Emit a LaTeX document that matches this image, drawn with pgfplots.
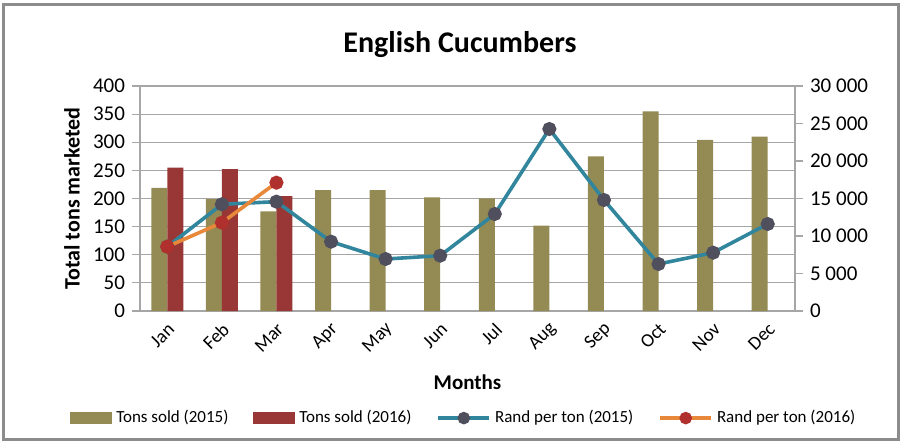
\documentclass[border=0pt]{standalone}
\usepackage{pgfplots}
\pgfplotsset{compat=1.18}
\usepackage{fontspec}
\setmainfont{Carlito}
\definecolor{olive15}{HTML}{948A54}
\definecolor{red16}{HTML}{983735}
\definecolor{teal15}{HTML}{31859C}
\definecolor{orange16}{HTML}{E8883A}
\definecolor{mark15}{HTML}{4F4F5E}
\definecolor{mark16}{HTML}{B0302E}
\definecolor{gridgray}{HTML}{A6A6A6}
\definecolor{framegray}{HTML}{8C8C8C}
\begin{document}
\begin{tikzpicture}[x=1pt,y=1pt]
\useasboundingbox (-70,-66.5) rectangle (381.5,155.5);
\draw[framegray, line width=1.5pt] (-68,-64) rectangle (379,153);
\node[font=\bfseries\fontsize{15}{18}\selectfont] at (160,133) {English Cucumbers};
\begin{axis}[
  at={(0,0)}, anchor=south west,
  scale only axis, width=327.5pt, height=112.5pt,
  xmin=-0.5, xmax=11.5, ymin=0, ymax=400,
  ytick={0,50,...,400},
  xtick={0,...,11},
  xticklabels={Jan,Feb,Mar,Apr,May,Jun,Jul,Aug,Sep,Oct,Nov,Dec},
  x tick style={draw=none},
  axis x line*=bottom, axis y line*=left,
  axis line style={gridgray, line width=0.6pt, -},
  ymajorgrids, grid style={gridgray, line width=0.6pt},
  ytick style={gridgray, line width=0.6pt},
  tick align=outside, major tick length=4pt,
  /pgf/number format/assume math mode=true,
  yticklabel style={font=\fontsize{10.5}{12}\selectfont},
  xticklabel style={font=\fontsize{9.5}{11}\selectfont, rotate=45, anchor=east, yshift=-4pt, inner sep=1pt},
  ylabel={Total tons marketed},
  ylabel style={font=\bfseries\fontsize{11}{13}\selectfont, at={(axis description cs:-0.104,0.5)}, anchor=center, rotate=0},
  xlabel={Months},
  xlabel style={font=\bfseries\fontsize{10.5}{12}\selectfont, at={(axis description cs:0.5,-0.316)}, anchor=center},
]
\addplot[ybar, bar width=8pt, bar shift=-4pt, fill=olive15, draw=none] coordinates {
(0,219) (1,199) (2,177) (3,215) (4,215) (5,202) (6,200) (7,152) (8,275) (9,355) (10,304) (11,310)};
\addplot[ybar, bar width=8pt, bar shift=4pt, fill=red16, draw=none] coordinates {
(0,255) (1,252) (2,204)};
\end{axis}
\begin{axis}[
  at={(0,0)}, anchor=south west,
  scale only axis, width=327.5pt, height=112.5pt,
  xmin=-0.5, xmax=11.5, ymin=0, ymax=30000,
  axis y line*=right, axis x line=none,
  axis line style={gridgray, line width=0.6pt, -},
  ytick={0,5000,...,30000},
  scaled y ticks=false,
  ytick style={gridgray, line width=0.6pt},
  tick align=outside, major tick length=4pt,
  /pgf/number format/assume math mode=true,
  /pgf/number format/1000 sep={\ },
  yticklabel style={font=\fontsize{10.5}{12}\selectfont},
  legend columns=4,
  legend style={draw=none, fill=none, font=\fontsize{8.5}{10}\selectfont,
    at={(axis description cs:0.496,-0.476)}, anchor=center,
    /tikz/every even column/.append style={column sep=10.5pt}},
]
\addlegendimage{legend image code/.code={\fill[olive15] (0pt,-2.8pt) rectangle (20.5pt,2.8pt);}}
\addlegendentry{Tons sold (2015)}
\addlegendimage{legend image code/.code={\fill[red16] (0pt,-2.8pt) rectangle (20.5pt,2.8pt);}}
\addlegendentry{Tons sold (2016)}
\addplot[teal15, line width=1.8pt, mark=*, mark size=2.6pt, mark options={fill=mark15, draw=mark15},
  legend image code/.code={\draw[teal15, line width=1.8pt] (0pt,0pt) -- (25.5pt,0pt); \fill[mark15] (12.75pt,0pt) circle (2.2pt);}]
coordinates {
(0,8577) (1,14227) (2,14578) (3,9244) (4,6933) (5,7378) (6,12933) (7,24267) (8,14800) (9,6267) (10,7778) (11,11600)};
\addlegendentry{Rand per ton (2015)}
\addplot[orange16, line width=1.8pt, mark=*, mark size=2.6pt, mark options={fill=mark16, draw=mark16},
  legend image code/.code={\draw[orange16, line width=1.8pt] (0pt,0pt) -- (25.5pt,0pt); \fill[mark16] (12.75pt,0pt) circle (2.2pt);}]
coordinates {
(0,8577) (1,11778) (2,17111)};
\addlegendentry{Rand per ton (2016)}
\end{axis}
\end{tikzpicture}
\end{document}
